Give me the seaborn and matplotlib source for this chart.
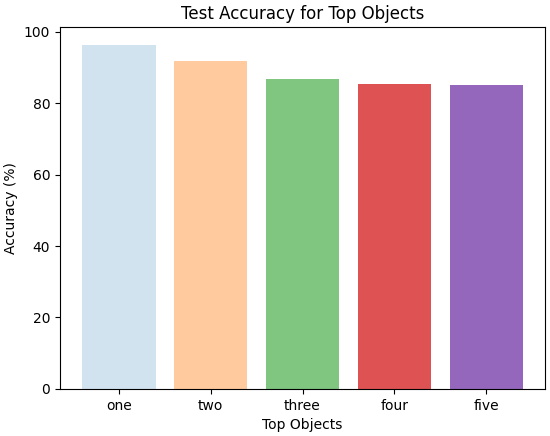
import matplotlib
matplotlib.use("Agg")
import matplotlib.pyplot as plt
import seaborn as sns
import pandas as pd
from matplotlib.colors import to_rgba

categories = ["one", "two", "three", "four", "five"]
accuracy = [96.4, 91.9, 86.9, 85.3, 85.0]
base_colors = ["#1f77b4", "#ff7f0e", "#2ca02c", "#d62728", "#9467bd"]
alphas = [0.2, 0.4, 0.6, 0.8, 1.0]

df = pd.DataFrame({"Top Objects": categories, "Accuracy": accuracy})
palette = {c: to_rgba(col, a) for c, col, a in zip(categories, base_colors, alphas)}

fig, ax = plt.subplots(figsize=(5.5, 4.36), dpi=100)
fig.subplots_adjust(left=0.109, right=0.991, top=0.937, bottom=0.108)
sns.barplot(data=df, x="Top Objects", y="Accuracy", hue="Top Objects",
            palette=palette, saturation=1, width=0.8, ax=ax, legend=False)
for p, a in zip(ax.patches, alphas):
    p.set_alpha(a)
ax.set_xlim(-0.64, 4.64)
ax.set_ylim(0, max(accuracy) * 1.05)
ax.set_title("Test Accuracy for Top Objects")
ax.set_xlabel("Top Objects")
ax.set_ylabel("Accuracy (%)")
fig.savefig("out.png", dpi=100)
